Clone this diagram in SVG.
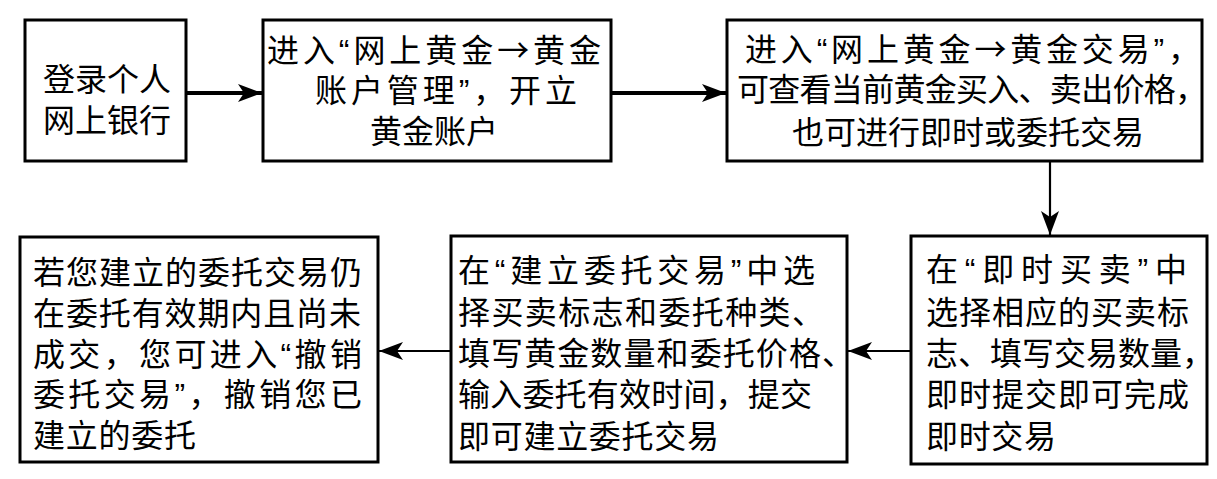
<svg xmlns="http://www.w3.org/2000/svg" width="1217" height="479" viewBox="0 0 1217 479">
<style>
.box{fill:#fff;stroke:#000;stroke-width:3}
.t{font-family:"Liberation Sans","Noto Sans CJK SC","Noto Sans CJK JP",sans-serif;font-size:32px;fill:#000}
.cjk{font-family:"Noto Sans CJK SC","Noto Sans CJK JP",sans-serif}
.c{stroke:#000;fill:none}
.thick{stroke-width:4}
.thin{stroke-width:2.2}
</style>
<defs>
<marker id="ah" markerUnits="userSpaceOnUse" markerWidth="26" markerHeight="20" refX="24" refY="9" orient="auto">
<path d="M0,0 L24,9 L0,18 L6,9 Z" fill="#000"/>
</marker>
</defs>
<rect width="1217" height="479" fill="#fff"/>
<g id="connectors">
<line class="c thick" x1="186" y1="93" x2="262" y2="93" marker-end="url(#ah)"/>
<line class="c thick" x1="611" y1="93" x2="726" y2="93" marker-end="url(#ah)"/>
<line class="c thin" x1="1050" y1="161" x2="1050" y2="235" marker-end="url(#ah)"/>
<line class="c thin" x1="911" y1="351" x2="848" y2="351" marker-end="url(#ah)"/>
<line class="c thin" x1="451" y1="351" x2="379" y2="351" marker-end="url(#ah)"/>
</g>
<g id="n1">
<rect class="box" x="25" y="20" width="161" height="141"/>
<text class="t" x="107" y="91" text-anchor="middle">登录个人</text>
<text class="t" x="107" y="132" text-anchor="middle">网上银行</text>
</g>
<g id="n2">
<rect class="box" x="263" y="20" width="348" height="141"/>
<text class="t" x="267" y="62" textLength="334" lengthAdjust="spacing">进入“网上黄金<tspan class="cjk">→</tspan>黄金</text>
<text class="t" x="315" y="102" textLength="262" lengthAdjust="spacing">账户管理”，开立</text>
<text class="t" x="370" y="143" textLength="128" lengthAdjust="spacing">黄金账户</text>
</g>
<g id="n3">
<rect class="box" x="727" y="20" width="475" height="141"/>
<text class="t" x="745" y="61" textLength="455" lengthAdjust="spacing">进入“网上黄金<tspan class="cjk">→</tspan>黄金交易”，</text>
<text class="t" x="737" y="101" textLength="470" lengthAdjust="spacing">可查看当前黄金买入、卖出价格，</text>
<text class="t" x="792" y="144" textLength="352" lengthAdjust="spacing">也可进行即时或委托交易</text>
</g>
<g id="n4">
<rect class="box" x="911" y="236" width="296" height="228"/>
<text class="t" x="926" y="281" textLength="261" lengthAdjust="spacing">在“即时买卖”中</text>
<text class="t" x="926" y="324" textLength="263" lengthAdjust="spacing">选择相应的买卖标</text>
<text class="t" x="926" y="365" textLength="288" lengthAdjust="spacing">志、填写交易数量，</text>
<text class="t" x="926" y="406" textLength="263" lengthAdjust="spacing">即时提交即可完成</text>
<text class="t" x="926" y="448" textLength="130" lengthAdjust="spacing">即时交易</text>
</g>
<g id="n5">
<rect class="box" x="451" y="236" width="396" height="226"/>
<text class="t" x="458" y="282" textLength="357" lengthAdjust="spacing">在“建立委托交易”中选</text>
<text class="t" x="458" y="324" textLength="366" lengthAdjust="spacing">择买卖标志和委托种类、</text>
<text class="t" x="458" y="365" textLength="396" lengthAdjust="spacing">填写黄金数量和委托价格、</text>
<text class="t" x="458" y="406" textLength="354" lengthAdjust="spacing">输入委托有效时间，提交</text>
<text class="t" x="458" y="448" textLength="261" lengthAdjust="spacing">即可建立委托交易</text>
</g>
<g id="n6">
<rect class="box" x="20" y="237" width="358" height="225"/>
<text class="t" x="33" y="284" textLength="329" lengthAdjust="spacing">若您建立的委托交易仍</text>
<text class="t" x="33" y="325" textLength="328" lengthAdjust="spacing">在委托有效期内且尚未</text>
<text class="t" x="33" y="366" textLength="329" lengthAdjust="spacing">成交，您可进入“撤销</text>
<text class="t" x="33" y="406" textLength="329" lengthAdjust="spacing">委托交易”，撤销您已</text>
<text class="t" x="33" y="447" textLength="163" lengthAdjust="spacing">建立的委托</text>
</g>
</svg>
